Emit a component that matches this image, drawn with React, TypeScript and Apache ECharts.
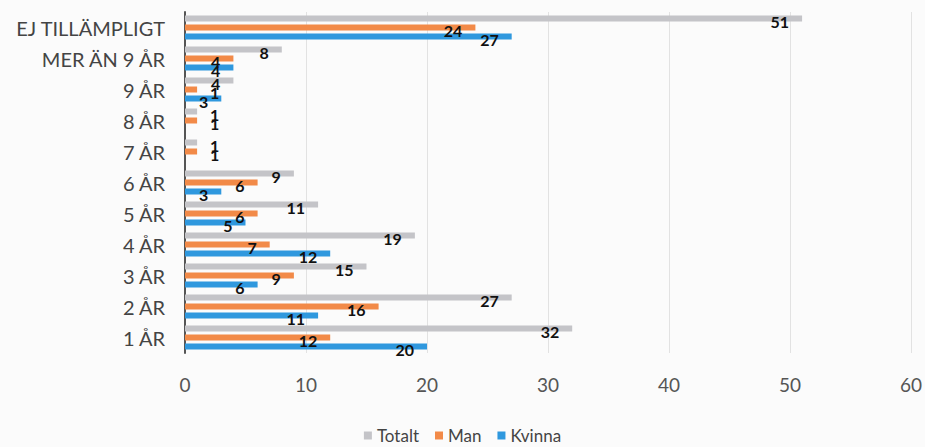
import React, { useEffect, useRef } from "react";
import * as echarts from "echarts";

const categories = ["1 ÅR", "2 ÅR", "3 ÅR", "4 ÅR", "5 ÅR", "6 ÅR", "7 ÅR", "8 ÅR", "9 ÅR", "MER ÄN 9 ÅR", "EJ TILLÄMPLIGT"];
const totalt = [32, 27, 15, 19, 11, 9, 1, 1, 4, 8, 51];
const man = [12, 16, 9, 7, 6, 6, 1, 1, 1, 4, 24];
const kvinna = [20, 11, 6, 12, 5, 3, 0, 0, 3, 4, 27];
const xTicks = { min: 0, max: 60, interval: 10 };

const FONT = "Lato, 'Open Sans', sans-serif";

function makeData(values: number[], dy: number) {
  return values.map((v) => ({
    value: v,
    label: {
      show: v > 0,
      position: v <= 1 ? ("right" as const) : ("insideRight" as const),
      offset: v <= 1 ? [8, dy] : [-8, dy],
    },
  }));
}

const labelBase = {
  show: true,
  color: "#111",
  fontWeight: "bold" as const,
  fontSize: 16,
  fontFamily: FONT,
};

export default function App() {
  const ref = useRef<HTMLDivElement>(null);
  useEffect(() => {
    const chart = echarts.init(ref.current!, null, { renderer: "svg" });
    chart.setOption({
      animation: false,
      backgroundColor: "#fbfbfb",
      textStyle: { fontFamily: FONT },
      grid: { left: 185, right: 14, top: 12, bottom: 94, containLabel: false },
      legend: {
        data: ["Totalt", "Man", "Kvinna"],
        top: 427,
        padding: 0,
        left: "center",
        icon: "rect",
        itemWidth: 8,
        itemHeight: 8,
        itemGap: 16,
        textStyle: { fontSize: 17, color: "#444", fontFamily: FONT },
      },
      xAxis: {
        type: "value",
        min: xTicks.min,
        max: xTicks.max,
        interval: xTicks.interval,
        axisLine: { show: false },
        axisTick: { show: false },
        axisLabel: { color: "#555", fontSize: 19, margin: 22 },
        splitLine: { lineStyle: { color: "#e2e2e2", width: 1 } },
      },
      yAxis: {
        type: "category",
        data: categories,
        axisLine: { show: true, lineStyle: { color: "#555", width: 2 } },
        axisTick: { show: false },
        axisLabel: { color: "#444", fontSize: 20, margin: 20 },
      },
      series: [
        { name: "Totalt", type: "bar", data: makeData(totalt, 3), barWidth: 6, barGap: "50%", itemStyle: { color: "#c4c4c8" }, label: labelBase },
        { name: "Man", type: "bar", data: makeData(man, 3), barWidth: 6, barGap: "50%", itemStyle: { color: "#f28a48" }, label: labelBase },
        { name: "Kvinna", type: "bar", data: makeData(kvinna, 3), barWidth: 6, barGap: "50%", itemStyle: { color: "#2f98de" }, label: labelBase },
      ],
    });
    return () => chart.dispose();
  }, []);
  return <div ref={ref} style={{ position: "fixed", left: 0, top: 0, width: 925, height: 447 }} />;
}
